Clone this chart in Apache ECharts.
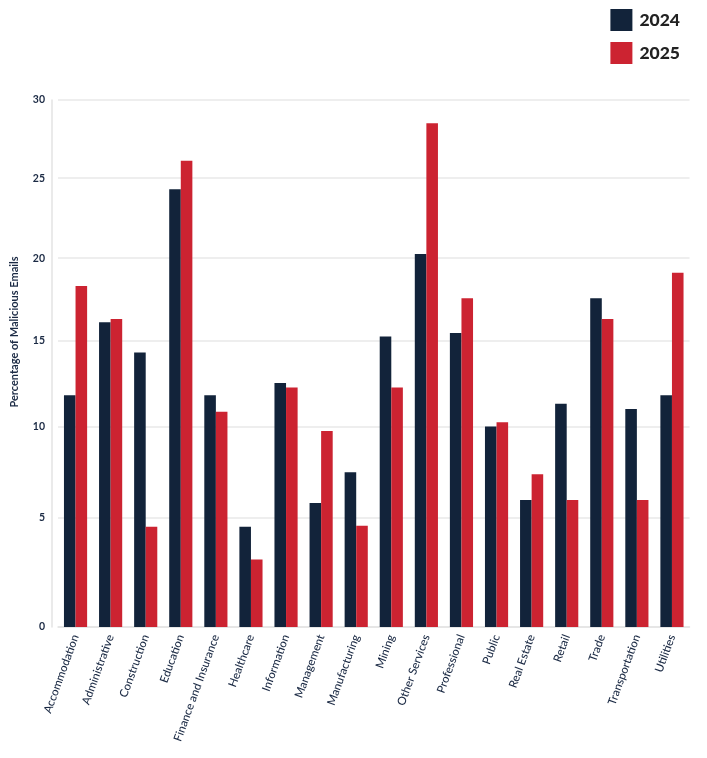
<!DOCTYPE html>
<html>
<head>
<meta charset="utf-8">
<script src="https://cdn.jsdelivr.net/npm/echarts@6/dist/echarts.min.js"></script>
<style>html,body{margin:0;padding:0;background:#fff}#c{width:707px;height:758px}</style>
</head>
<body>
<div id="c"></div>
<script>
const categories = ["Accommodation","Administrative","Construction","Education","Finance and Insurance","Healthcare","Information","Management","Manufacturing","Mining","Other Services","Professional","Public","Real Estate","Retail","Trade","Transportation","Utilities"];
const values2024 = [11.8,16.1,14.3,24.3,11.8,4.55,12.5,5.8,7.45,15.25,20.25,15.45,10.0,5.95,11.3,17.55,11.0,11.8];
const values2025 = [18.3,16.3,4.55,26.1,10.85,2.9,12.25,9.75,4.6,12.25,28.5,17.55,10.25,7.35,5.95,16.3,5.95,19.1];
const yTicks = [0,5,10,15,20,25,30];
const seriesNames = ["2024","2025"];

// The reference's value axis is compressed towards the top (approx. power scale)
const YMAX = 30, EXP = 0.88;
const fwd = v => YMAX * Math.pow(v / YMAX, EXP);
const inv = t => YMAX * Math.pow(t / YMAX, 1 / EXP);

const chart = echarts.init(document.getElementById('c'));
const navy = '#12233a', red = '#cc2331', txt = '#1b2a44';
chart.setOption({
  animation: false,
  legend: {
    orient: 'vertical', right: 22, top: 4,
    itemWidth: 22, itemHeight: 22, itemGap: 11,
    icon: 'rect',
    textStyle: { fontFamily: 'Lato', fontWeight: 900, fontSize: 17.5, color: '#222', padding: [0,0,0,2] },
    data: seriesNames
  },
  grid: { left: 58, right: 17.5, top: 100, bottom: 131, containLabel: false },
  xAxis: {
    type: 'category', data: categories,
    axisLine: { lineStyle: { color: '#e3e3e3', width: 1.5 } },
    axisTick: { alignWithLabel: true, length: 5, lineStyle: { color: '#e3e3e3' } },
    axisLabel: { rotate: 70, interval: 0, margin: 8, fontFamily: 'Lato', fontSize: 11.5, color: txt, fontWeight: 500 }
  },
  yAxis: {
    type: 'value', min: 0, max: YMAX, offset: 6,
    axisLine: { show: true, lineStyle: { color: '#e3e3e3', width: 1.5 } },
    axisTick: { show: false, customValues: yTicks.map(fwd) },
    axisLabel: { customValues: yTicks.map(fwd), formatter: v => String(Math.round(inv(v))), margin: 7, fontFamily: 'Lato', fontWeight: 'bold', fontSize: 10.5, color: txt },
    splitLine: { show: true, lineStyle: { color: '#e8e8e8', width: 1.5 } }
  },
  graphic: [{
    type: 'text', x: 14, y: 332, rotation: Math.PI / 2,
    style: { text: 'Percentage of Malicious Emails', align: 'center', verticalAlign: 'middle', fontFamily: 'Lato', fontWeight: 'bold', fontSize: 11, fill: txt }
  }],
  series: [
    { name: seriesNames[0], type: 'bar', data: values2024.map(fwd), barWidth: '33%', barGap: '0%', itemStyle: { color: navy } },
    { name: seriesNames[1], type: 'bar', data: values2025.map(fwd), barWidth: '33%', barGap: '0%', itemStyle: { color: red } }
  ]
});
</script>
</body>
</html>
